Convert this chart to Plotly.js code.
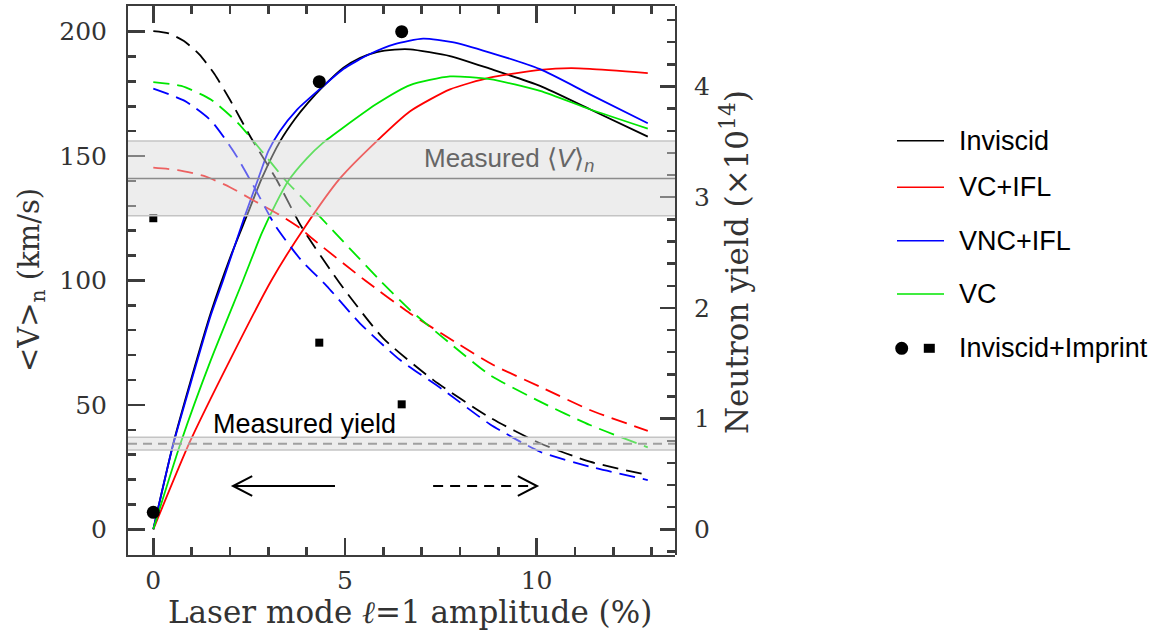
<!DOCTYPE html>
<html>
<head>
<meta charset="utf-8">
<script src="https://cdn.plot.ly/plotly-3.0.1.min.js"></script>
<style>
  html, body { margin: 0; padding: 0; background: #ffffff; }
  #chart { width: 1155px; height: 633px; }
</style>
</head>
<body>
<div id="chart"></div>
<script>
// ---------- Data ----------
// Solid curves: <V>_n (km/s), left axis
const invX_V  = [0, 0.53, 1.0, 1.5, 2.0, 2.44, 2.83, 3.31, 3.7, 4.04, 4.4, 4.96, 5.4, 5.83, 6.3, 6.7, 7.74, 8.78, 10.09, 11.39, 12.9];
const invV    = [0, 35, 61, 87, 109, 126, 141, 156, 165, 171.5, 177.5, 185.5, 189.5, 191.8, 192.8, 192.9, 190.2, 185.1, 178.2, 168.8, 157.8];
const vcIflX_V = [0, 0.95, 2.0, 3.08, 3.96, 4.87, 5.83, 6.7, 7.74, 8.78, 10.09, 10.9, 11.39, 12.9];
const vcIflV   = [0, 35, 68, 100, 121.6, 141, 156, 168, 176.8, 181.5, 184.6, 185.3, 185, 183.3];
const vncIflX_V = [0, 0.5, 1.0, 1.5, 1.82, 2.39, 2.74, 3.0, 3.3, 3.74, 4.35, 4.96, 5.65, 6.3, 7.04, 7.8, 8.78, 10.09, 11.39, 12.9];
const vncIflV   = [0, 33, 60, 86, 100, 126, 141, 152, 160, 168.5, 177, 185, 191, 195, 197.2, 195.8, 191.6, 184.9, 174.8, 163.2];
const vcX_V = [0, 0.72, 1.5, 2.34, 2.83, 3.2, 3.52, 4.0, 4.44, 4.96, 5.83, 6.7, 7.74, 8.78, 10.09, 11.39, 12.9];
const vcV   = [0, 35, 68, 100, 119, 131, 140, 149, 155.5, 161.5, 171, 178.5, 182, 180.9, 176.2, 168.8, 161];

// Dashed curves: neutron yield (x1e14), right axis
const invX_Y = [0, 0.4, 0.8, 1.2, 1.6, 2.0, 2.56, 3.22, 3.87, 4.87, 6.0, 7.3, 8.78, 10.09, 11.39, 12.9];
const invY   = [4.50, 4.48, 4.41, 4.29, 4.11, 3.88, 3.53, 3.155, 2.73, 2.22, 1.725, 1.35, 1.01, 0.777, 0.611, 0.49];
const vcIflX_Y = [0, 0.64, 1.34, 2.0, 2.64, 3.34, 3.83, 4.17, 5.52, 6.7, 8.0, 8.87, 10.09, 11.39, 12.9];
const vcIflY   = [3.267, 3.245, 3.19, 3.09, 2.966, 2.83, 2.72, 2.62, 2.25, 1.95, 1.665, 1.484, 1.288, 1.078, 0.89];
const vncIflX_Y = [0, 0.82, 1.51, 2.12, 2.64, 3.17, 3.86, 4.52, 5.39, 6.44, 7.57, 8.78, 10.09, 11.39, 12.9];
const vncIflY   = [3.98, 3.87, 3.69, 3.40, 3.086, 2.75, 2.43, 2.20, 1.861, 1.529, 1.258, 0.95, 0.701, 0.566, 0.445];
const vcX_Y = [0, 0.73, 1.51, 2.21, 2.82, 3.43, 4.09, 4.52, 5.91, 6.7, 7.74, 8.78, 10.09, 11.39, 12.9];
const vcY   = [4.04, 4.005, 3.88, 3.67, 3.42, 3.16, 2.92, 2.76, 2.25, 1.98, 1.68, 1.394, 1.153, 0.942, 0.74];

// Inviscid+Imprint simulations
const imprintX = [0, 4.33, 6.48];
const imprintV = [6.8, 179.9, 200];     // circles, <V>_n
const imprintY = [2.81, 1.686, 1.129];  // squares, yield

// Measured values
const measuredV = {low: 126, mid: 141, high: 156};
const measuredYield = {low: 0.716, mid: 0.773, high: 0.831};

// Labels
const seriesNames  = ['Inviscid', 'VC+IFL', 'VNC+IFL', 'VC'];
const seriesColors = ['#000000', '#ff0000', '#0000ff', '#00e600'];
const markerLegendName = 'Inviscid+Imprint';
const xTitle = 'Laser mode <i>\u2113</i>=1 amplitude (%)';
const yTitle = '&lt;V&gt;<sub>n</sub> (km/s)';
const y2Title = 'Neutron yield (\u00D710<sup>14</sup>)';

// Direction arrows (x in %, y in km/s)
const arrows = [
  {from: 4.74, to: 2.08, y: 17.4, dash: 'solid'},
  {from: 7.30, to: 10.01, y: 17.4, dash: '10px,7px'}
];

// ---------- Build ----------
const SERIF = 'DejaVu Serif';
const SANS = 'Liberation Sans, Arial, sans-serif';
const LW = 1.8;
const DASH = '16px,8px';
const SMOOTH = 0.6;
const AXC = 'rgb(60,60,60)';

const X_RANGE = [-0.66, 13.61], Y_RANGE = [-10.33, 210.3], Y2_RANGE = [-0.232, 4.727];

const solidSets = [[invX_V, invV], [vcIflX_V, vcIflV], [vncIflX_V, vncIflV], [vcX_V, vcV]];
const dashSets  = [[invX_Y, invY], [vcIflX_Y, vcIflY], [vncIflX_Y, vncIflY], [vcX_Y, vcY]];

const traces = [];
solidSets.forEach((s, i) => traces.push({
  x: s[0], y: s[1], xaxis: 'x', yaxis: 'y', type: 'scatter', mode: 'lines',
  line: {color: seriesColors[i], width: LW, shape: 'spline', smoothing: SMOOTH},
  name: seriesNames[i], showlegend: false
}));
traces.push({x: imprintX, y: imprintV, xaxis: 'x', yaxis: 'y', type: 'scatter', mode: 'markers',
  marker: {symbol: 'circle', size: 13, color: '#000'}, showlegend: false});
dashSets.forEach((s, i) => traces.push({
  x: s[0], y: s[1], xaxis: 'x2', yaxis: 'y2', type: 'scatter', mode: 'lines',
  line: {color: seriesColors[i], width: LW, dash: DASH, shape: 'spline', smoothing: SMOOTH},
  showlegend: false, hoverinfo: 'skip'
}));
traces.push({x: imprintX, y: imprintY, xaxis: 'x2', yaxis: 'y2', type: 'scatter', mode: 'markers',
  marker: {symbol: 'square', size: 8, color: '#000'}, showlegend: false});

const L = 128, R = 675, T = 6, B = 555, W = 1155, H = 633;
const PW = R - L, PH = B - T;
const px2paperX = p => (p - L) / PW;
const px2paperY = p => (B - p) / PH;

const shapes = [];
// Measured <V>_n band
shapes.push({type: 'rect', layer: 'above', xref: 'paper', yref: 'y', x0: 0, x1: 1,
  y0: measuredV.low, y1: measuredV.high, fillcolor: 'rgba(215,215,215,0.45)', line: {width: 0}});
[measuredV.low, measuredV.high].forEach(v => shapes.push({type: 'line', layer: 'above', xref: 'paper', yref: 'y',
  x0: 0, x1: 1, y0: v, y1: v, line: {color: 'rgb(196,196,196)', width: 1.5}}));
shapes.push({type: 'line', layer: 'above', xref: 'paper', yref: 'y', x0: 0, x1: 1,
  y0: measuredV.mid, y1: measuredV.mid, line: {color: 'rgb(140,140,140)', width: 1.6}});
// Measured yield band
shapes.push({type: 'rect', layer: 'above', xref: 'paper', yref: 'y2', x0: 0, x1: 1,
  y0: measuredYield.low, y1: measuredYield.high, fillcolor: 'rgba(215,215,215,0.45)', line: {width: 0}});
[measuredYield.low, measuredYield.high].forEach(v => shapes.push({type: 'line', layer: 'above', xref: 'paper', yref: 'y2',
  x0: 0, x1: 1, y0: v, y1: v, line: {color: 'rgb(196,196,196)', width: 1.5}}));
shapes.push({type: 'line', layer: 'above', xref: 'paper', yref: 'y2', x0: 0, x1: 1,
  y0: measuredYield.mid, y1: measuredYield.mid, line: {color: 'rgb(160,160,160)', width: 2, dash: '9px,6px'}});

// Arrows
arrows.forEach(a => {
  shapes.push({type: 'line', xref: 'x', yref: 'y', x0: a.from, x1: a.to, y0: a.y, y1: a.y,
    line: {color: '#000', width: 2, dash: a.dash}});
  const dir = a.to > a.from ? -1 : 1;
  const hx = 0.5 * dir, hy = 4.0;
  shapes.push({type: 'path', xref: 'x', yref: 'y',
    path: `M ${a.to + hx} ${a.y + hy} L ${a.to} ${a.y} L ${a.to + hx} ${a.y - hy}`,
    line: {color: '#000', width: 2}});
});

// Legend (drawn manually to allow the two-symbol entry)
const legendRowsPx = [140.7, 187.3, 240.7, 294, 348.3];
const annotations = [];
seriesNames.forEach((n, i) => {
  const yp = px2paperY(legendRowsPx[i]);
  shapes.push({type: 'line', xref: 'paper', yref: 'paper', x0: px2paperX(897), x1: px2paperX(944),
    y0: yp, y1: yp, line: {color: seriesColors[i], width: 1.6}});
  annotations.push({xref: 'paper', yref: 'paper', x: px2paperX(957), y: yp, xanchor: 'left', yanchor: 'middle',
    text: n, showarrow: false, font: {family: SANS, size: 27, color: '#000'}});
});
{
  const yp = px2paperY(legendRowsPx[4]);
  shapes.push({type: 'circle', xref: 'paper', yref: 'paper',
    x0: px2paperX(895.2), x1: px2paperX(908.2), y0: yp - 6.5 / PH, y1: yp + 6.5 / PH,
    fillcolor: '#000', line: {width: 0}});
  shapes.push({type: 'rect', xref: 'paper', yref: 'paper',
    x0: px2paperX(923.8), x1: px2paperX(934.8), y0: yp - 4.5 / PH, y1: yp + 4.5 / PH,
    fillcolor: '#000', line: {width: 0}});
  annotations.push({xref: 'paper', yref: 'paper', x: px2paperX(957), y: yp, xanchor: 'left', yanchor: 'middle',
    text: markerLegendName, showarrow: false, font: {family: SANS, size: 27, color: '#000'}});
}

// In-plot labels
annotations.push({xref: 'paper', yref: 'y', x: px2paperX(422), y: 148.5, xanchor: 'left', yanchor: 'middle',
  text: 'Measured \u27E8<i>V</i>\u27E9<sub><i>n</i></sub>', showarrow: false,
  font: {family: SANS, size: 26, color: '#666'}});
annotations.push({xref: 'x', yref: 'y', x: 1.5, y: 42.5, xanchor: 'left', yanchor: 'middle',
  text: 'Measured yield', showarrow: false, font: {family: SANS, size: 27, color: '#000'}});

// Axis titles (placed as annotations for exact position)
annotations.push({xref: 'paper', yref: 'paper', x: px2paperX(410), y: px2paperY(612), xanchor: 'center', yanchor: 'middle',
  text: xTitle, showarrow: false, font: {family: SERIF, size: 31, color: '#333'}});
annotations.push({xref: 'paper', yref: 'paper', x: px2paperX(31), y: px2paperY(280), xanchor: 'center', yanchor: 'middle',
  textangle: -90, text: yTitle, showarrow: false, font: {family: SERIF, size: 29, color: '#333'}});
annotations.push({xref: 'paper', yref: 'paper', x: px2paperX(735), y: px2paperY(262), xanchor: 'center', yanchor: 'middle',
  textangle: -90, text: y2Title, showarrow: false, font: {family: SERIF, size: 31, color: '#333'}});

const axisCommon = {
  showgrid: false, zeroline: false, showline: true, linecolor: AXC, linewidth: 2,
  ticks: 'inside', tickwidth: 2.5, tickcolor: AXC, layer: 'above traces',
  tickfont: {family: SERIF, size: 25, color: '#333'}
};

const layout = {
  width: W, height: H,
  margin: {l: L, r: W - R, t: T, b: H - B, pad: 0},
  paper_bgcolor: '#fff', plot_bgcolor: 'rgba(255,255,255,0)',
  showlegend: false,
  xaxis: Object.assign({}, axisCommon, {
    domain: [0, 1], anchor: 'y', range: X_RANGE, dtick: 5, tick0: 0, mirror: 'ticks', ticklen: 17,
    minor: {dtick: 1, ticks: 'inside', ticklen: 8, tickwidth: 2.5, tickcolor: AXC},
    ticklabelstandoff: 2
  }),
  yaxis: Object.assign({}, axisCommon, {
    domain: [0, 1], anchor: 'x', range: Y_RANGE, dtick: 50, tick0: 0, ticklen: 17,
    minor: {dtick: 10, ticks: 'inside', ticklen: 8, tickwidth: 2.5, tickcolor: AXC},
    ticklabelstandoff: 14
  }),
  xaxis2: {domain: [0, 1], anchor: 'y2', matches: 'x', range: X_RANGE, visible: false,
    showgrid: false, zeroline: false},
  yaxis2: Object.assign({}, axisCommon, {
    domain: [0, 1], anchor: 'x2', side: 'right', range: Y2_RANGE, dtick: 1, tick0: 0, ticklen: 15,
    minor: {dtick: 0.2, ticks: 'inside', ticklen: 8, tickwidth: 2.5, tickcolor: AXC},
    ticklabelstandoff: 12
  }),
  shapes: shapes,
  annotations: annotations
};

Plotly.newPlot('chart', traces, layout, {displayModeBar: false, staticPlot: true});
</script>
</body>
</html>
